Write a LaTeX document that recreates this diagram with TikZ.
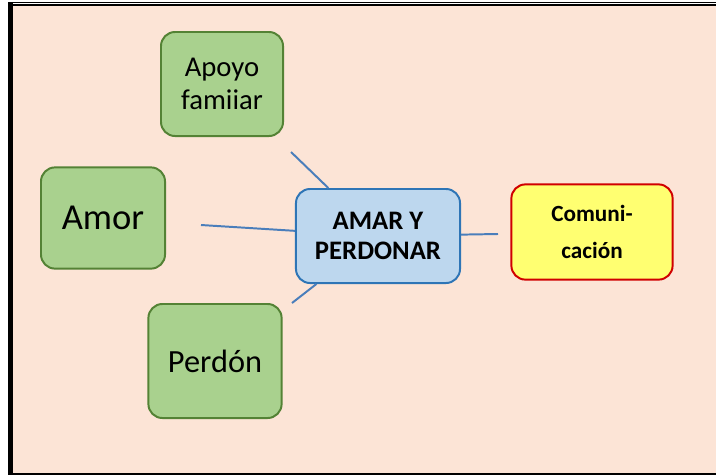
\documentclass[tikz,border=0pt]{standalone}
\usepackage{fontspec}
\setmainfont{Carlito}
\definecolor{peach}{HTML}{FCE4D6}
\definecolor{leaffill}{HTML}{A9D18E}
\definecolor{leafline}{HTML}{548235}
\definecolor{hubfill}{HTML}{BDD7EE}
\definecolor{hubline}{HTML}{2E75B6}
\definecolor{notefill}{HTML}{FFFF71}
\definecolor{noteline}{HTML}{D00000}
\definecolor{linkcol}{HTML}{4A7EBB}

\begin{document}
\begin{tikzpicture}[x=0.025cm,y=-0.025cm,
  leaf/.style={draw=leafline,fill=leaffill,line width=1.4pt,rounded corners=10pt,align=center,inner sep=0pt},
  hub/.style={draw=hubline,fill=hubfill,line width=1.4pt,rounded corners=10pt,align=center,inner sep=0pt,
    font=\fontsize{19}{21.5}\selectfont\bfseries},
  note/.style={draw=noteline,fill=notefill,line width=1.4pt,rounded corners=10pt,align=center,inner sep=0pt,
    font=\fontsize{16.5}{26}\selectfont\bfseries},
  link/.style={draw=linkcol,line width=1.4pt}]
  \useasboundingbox (0,0) rectangle (716,475);
  % page background and frame
  \fill[peach] (12,6) rectangle (716,473);
  \draw[line width=0.9pt] (8,2.6) -- (716,2.6);
  \draw[line width=1.4pt] (8,5.3) -- (716,5.3);
  \draw[line width=3.5pt] (10.5,2) -- (10.5,475);
  \draw[line width=1.4pt] (8,474) -- (716,474);

  \node[hub,minimum width=4.1cm,minimum height=2.35cm] (amar) at (378,236) {AMAR Y\\PERDONAR};
  \node[leaf,minimum width=3.05cm,minimum height=2.6cm,font=\fontsize{20.4}{23.4}\selectfont] (apoyo) at (222,84) {Apoyo\\famiiar};
  \node[leaf,minimum width=3.1cm,minimum height=2.53cm,font=\fontsize{26}{29}\selectfont] (amor) at (103,218) {Amor};
  \node[leaf,minimum width=3.33cm,minimum height=2.85cm,font=\fontsize{23}{26}\selectfont] (perdon) at (215,361) {Perdón};
  \node[note,minimum width=4.03cm,minimum height=2.38cm] (comun) at (592,232) {Comuni-\\cación};

  \coordinate (toApoyo) at (291,152);
  \coordinate (toAmor) at (201,225);
  \coordinate (toPerdon) at (292,303);
  \coordinate (toComun) at (498,234);
  \draw[link] (amar) -- (toApoyo);
  \draw[link] (amar) -- (toAmor);
  \draw[link] (amar) -- (toPerdon);
  \draw[link] (amar) -- (toComun);
\end{tikzpicture}
\end{document}
